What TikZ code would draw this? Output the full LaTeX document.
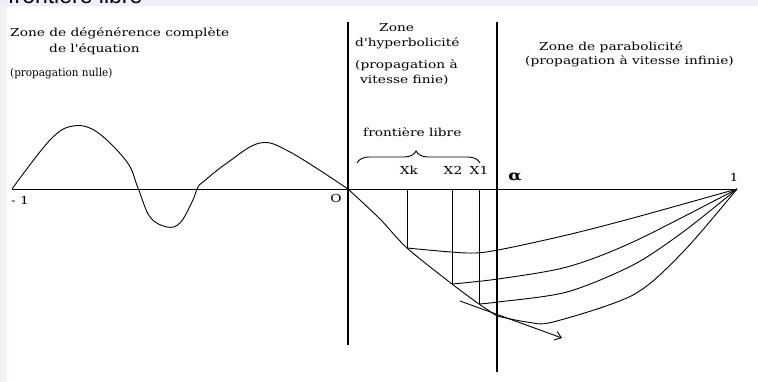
\documentclass[tikz,border=0pt]{standalone}
\usepackage{fontspec}
\setmainfont{DejaVu Serif}
\newfontfamily\zonefont[FakeStretch=1.25]{DejaVu Serif}
\newfontfamily\nullefont[FakeStretch=0.95]{DejaVu Serif}
\newfontfamily\bandfont{Liberation Sans}
\usetikzlibrary{decorations.pathreplacing, arrows.meta}
\definecolor{bandcol}{RGB}{240,238,250}
\definecolor{stripcol}{RGB}{246,240,248}

\begin{document}
\begin{tikzpicture}[x=1pt, y=-1pt,
    zone/.style={font=\zonefont\fontsize{11}{13}\selectfont, inner sep=0pt, anchor=base west},
    axislbl/.style={font=\zonefont\fontsize{11}{13}\selectfont, inner sep=0pt, anchor=base},
    curve/.style={line width=0.9pt},
    wall/.style={line width=1.4pt},
  ]
    \useasboundingbox (0,0) rectangle (758,382);
    \clip (0,0) rectangle (758,382);
    \fill[bandcol] (0,0) rectangle (758,6);
    \fill[stripcol] (0,6) rectangle (7,382);
    \node[font=\bandfont\fontsize{23}{26}\selectfont, inner sep=0pt, anchor=base west] (band) at (8,4) {frontière libre};

    % zones
    \node[zone] (zA1) at (10,37) {Zone de dégénérence complète};
    \node[zone] (zA2) at (49,53) {de l'équation};
    \node[zone, font=\nullefont\fontsize{11}{13}\selectfont] (zA3) at (10,77) {(propagation nulle)};
    \node[zone] (zB1) at (379,32) {Zone};
    \node[zone] (zB2) at (355,47) {d'hyperbolicité};
    \node[zone] (zB3) at (355,69) {(propagation à};
    \node[zone] (zB4) at (360,84) {vitesse finie)};
    \node[zone] (zC1) at (539,51) {Zone de parabolicité};
    \node[zone] (zC2) at (525,65) {(propagation à vitesse infinie)};
    \node[zone] (fl) at (363,137) {frontière libre};

    % points
    \coordinate (m1) at (12,189);   \coordinate (O) at (348,189);   \coordinate (one) at (737,189);
    \coordinate (w1t) at (348,22);  \coordinate (w1b) at (348,345);
    \coordinate (w2t) at (497,22);  \coordinate (w2b) at (497,372);
    \coordinate (xk) at (407,189);  \coordinate (fk) at (407,248);
    \coordinate (x2) at (452,189);  \coordinate (f2) at (452,284);
    \coordinate (x1) at (479,189);  \coordinate (f1) at (479,304);
    \coordinate (fe) at (497,316);
    \coordinate (ta) at (460,301);  \coordinate (tb) at (562,338);
    \coordinate (bl) at (357,163);  \coordinate (br) at (480,163);

    % labels
    \node[axislbl] (lm1) at (20,205) {- 1};
    \node[axislbl] (lO) at (336,203) {O};
    \node[axislbl] (l1) at (734,182) {1};
    \node[axislbl, font=\zonefont\fontsize{14}{16}\selectfont\bfseries] (lal) at (515,181) {α};
    \node[axislbl] (lxk) at (409,175) {Xk};
    \node[axislbl] (lx2) at (453,175) {X2};
    \node[axislbl] (lx1) at (479,175) {X1};

    \draw[wall] (w1t) -- (w1b);
    \draw[wall] (w2t) -- (w2b);
    \draw[curve] (m1) -- (one);
    \draw[curve] plot[smooth, tension=0.6] coordinates {(m1) (50,140) (73,126) (97,132) (127,162) (138,188) (150,217) (167,227) (180,223) (192,202) (198,187) (203,182) (227,163) (260,143) (290,152) (O)};
    \draw[curve] plot[smooth] coordinates {(O) (380,219) (fk) (f2) (f1) (fe)};
    \draw[curve] (xk) -- (fk);
    \draw[curve] (x2) -- (f2);
    \draw[curve] (x1) -- (f1);
    \draw[curve] plot[smooth] coordinates {(fk) (467,253) (498,250) (567,235) (633,218) (one)};
    \draw[curve] plot[smooth] coordinates {(f2) (498,279) (567,267) (633,242) (one)};
    \draw[curve] plot[smooth] coordinates {(f1) (498,302) (567,292) (633,265) (683,232) (one)};
    \draw[curve] plot[smooth] coordinates {(fe) (527,322) (553,322) (633,295) (683,252) (one)};
    \draw[curve, -{Straight Barb[length=6pt, width=9pt]}] (ta) -- (tb);
    \draw[curve, decorate, decoration={brace, amplitude=12pt, aspect=0.48}] (bl) -- (br);
\end{tikzpicture}
\end{document}
